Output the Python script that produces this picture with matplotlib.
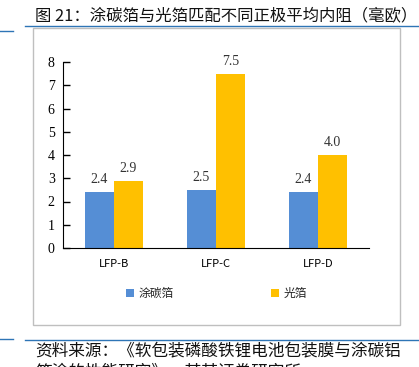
import matplotlib.pyplot as plt
from matplotlib.lines import Line2D
from matplotlib.patches import Rectangle
import numpy as np

plt.rcParams['font.family'] = ['Noto Sans CJK SC', 'DejaVu Sans']

categories = ['LFP-B', 'LFP-C', 'LFP-D']
coated = [2.4, 2.5, 2.4]
plain = [2.9, 7.5, 4.0]
labels = ['涂碳箔', '光箔']
colors = ['#558ED5', '#FFC000']

W, H = 419, 367
fig = plt.figure(figsize=(W / 100, H / 100), dpi=100)


def fx(px):
    return px / W


def fy(py):
    return 1 - py / H


# title and blue rules
fig.text(fx(35), fy(16), '图 21：涂碳箔与光箔匹配不同正极平均内阻（毫欧）',
         fontsize=11.8, va='center', ha='left', color='#111111')
fig.add_artist(Line2D([fx(25), 1], [fy(26), fy(26)], color='#2E75B6', lw=1.0))
fig.add_artist(Line2D([0, fx(13)], [fy(31), fy(31)], color='#2E75B6', lw=1.0))

# chart frame
fig.add_artist(Rectangle((fx(33), fy(325)), fx(400) - fx(33), fy(28) - fy(325),
                         fill=False, edgecolor='#BFBFBF', lw=1.0))

ax = fig.add_axes([fx(63), fy(248), fx(369) - fx(63), fy(62) - fy(248)])
x = np.arange(len(categories))
bw = 0.285
b1 = ax.bar(x - bw / 2, coated, bw, color=colors[0], label=labels[0])
b2 = ax.bar(x + bw / 2, plain, bw, color=colors[1], label=labels[1])
for bars in (b1, b2):
    for r in bars:
        ax.text(r.get_x() + r.get_width() / 2, r.get_height() + 0.25,
                f'{r.get_height():.1f}', ha='center', va='bottom',
                fontsize=10, family='Liberation Serif', color='#333333')

ax.set_xlim(-0.5, 2.5)
ax.set_ylim(0, 8)
ax.set_yticks(range(0, 9))
ax.set_xticks(x)
ax.set_xticklabels(categories, fontsize=8)
for t in ax.get_yticklabels():
    t.set_family('Liberation Serif')
    t.set_fontsize(10)
ax.tick_params(axis='y', direction='in', length=5, width=1, pad=6)
ax.tick_params(axis='x', length=0, pad=8)
for s in ['top', 'right']:
    ax.spines[s].set_visible(False)
ax.spines['left'].set_color('#000000')
ax.spines['bottom'].set_color('#000000')
ax.patch.set_alpha(0)

# legend
for px, lab, c in [(130, labels[0], colors[0]), (275, labels[1], colors[1])]:
    fig.add_artist(Rectangle((fx(px - 4), fy(297)), fx(8), fy(289) - fy(297),
                             facecolor=c, edgecolor='none'))
    fig.text(fx(px + 9), fy(293), lab, fontsize=8.5, va='center', ha='left',
             color='#222222')

# source (second line is cut by the bottom edge, as in the original)
fig.add_artist(Line2D([fx(25), 1], [fy(340), fy(340)], color='#2E75B6', lw=1.0))
fig.add_artist(Line2D([0, fx(13)], [fy(339), fy(339)], color='#2E75B6', lw=1.0))
fig.text(fx(35), fy(351), '资料来源：《软包装磷酸铁锂电池包装膜与涂碳铝',
         fontsize=12, va='center', ha='left', color='#111111')
fig.text(fx(35), fy(372), '箔涂的性能研究》，某某证券研究所',
         fontsize=12, va='center', ha='left', color='#111111')

fig.savefig('out.png', dpi=100)
